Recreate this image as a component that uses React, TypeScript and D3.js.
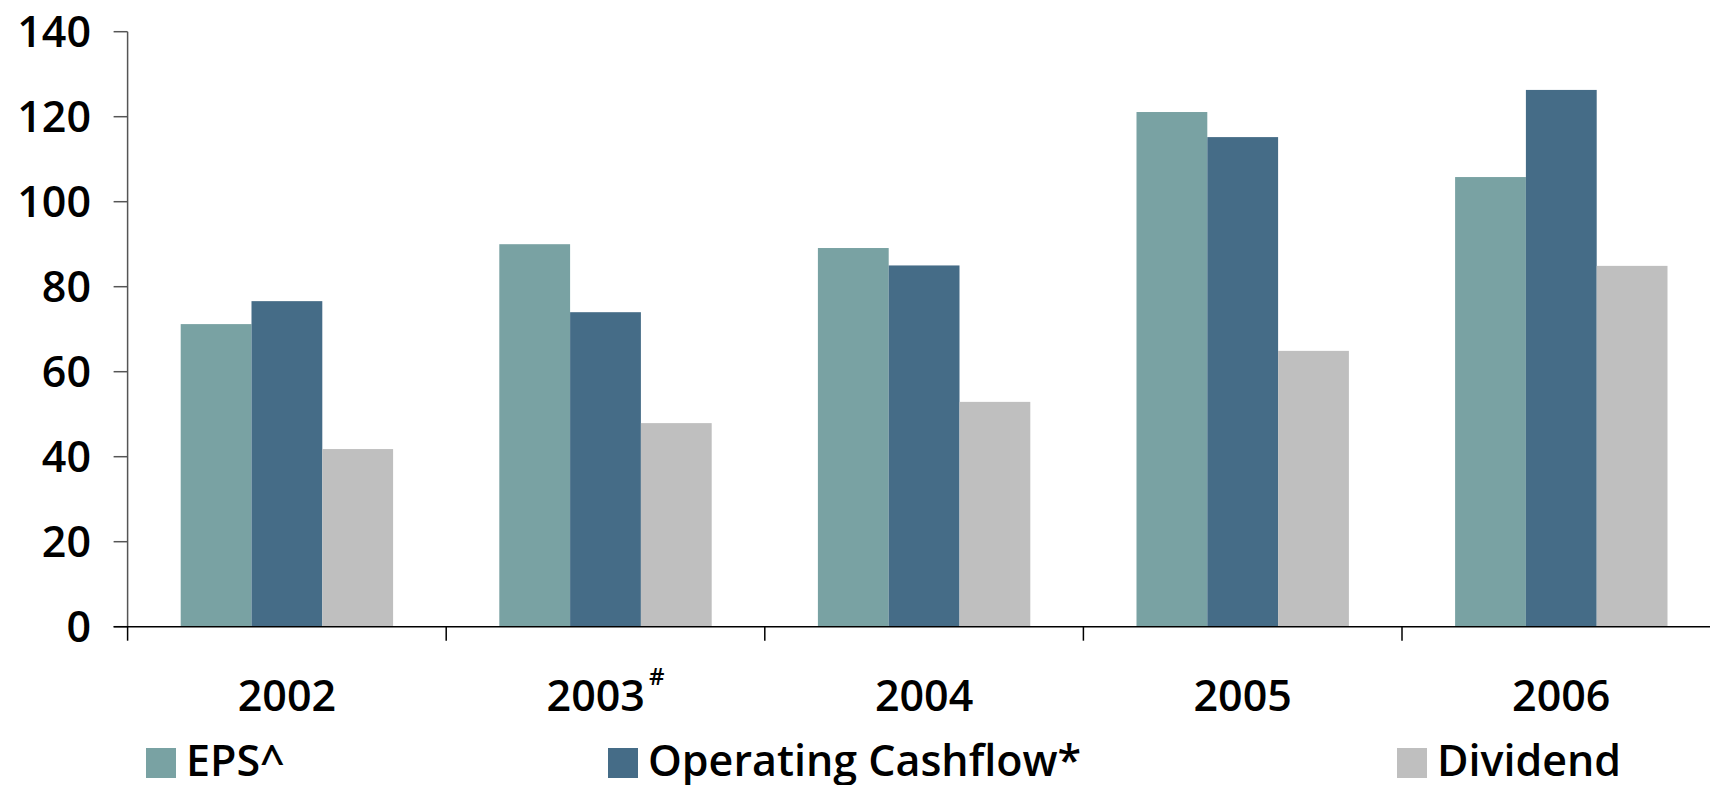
import React from "react";
import * as d3 from "d3";

// Yearly figures per series
const years = ["2002", "2003", "2004", "2005", "2006"];
const yearNotes = ["", "#", "", "", ""];
const seriesNames = ["EPS^", "Operating Cashflow*", "Dividend"];
const epsValues = [71.2, 90.0, 89.1, 121.1, 105.8];
const cashflowValues = [76.6, 74.0, 85.0, 115.2, 126.3];
const dividendValues = [41.8, 47.9, 52.9, 64.9, 84.9];
const yTicks = [0, 20, 40, 60, 80, 100, 120, 140];

const seriesColors = ["#79A2A3", "#456C87", "#BFBFBF"];
const legendX = [146, 608, 1397];

const W = 1710;
const H = 785;
const FONT = "'Open Sans', 'Noto Sans', sans-serif";
const WEIGHT = 600;

export default function App() {
  const seriesValues = [epsValues, cashflowValues, dividendValues];

  const x = d3.scaleBand<string>().domain(years).range([127.6, 1720.6]).padding(0);
  const inner = d3
    .scaleBand<string>()
    .domain(seriesNames)
    .range([0, x.bandwidth()])
    .paddingInner(0)
    .paddingOuter(0.75);
  const y = d3.scaleLinear().domain([0, 140]).range([626.7, 31.7]);

  const x0 = x.range()[0];
  const boundaries = years.map((yr) => x(yr) as number);

  return (
    <svg
      width={W}
      height={H}
      style={{ position: "absolute", left: 0, top: 0, background: "#fff" }}
      fontFamily={FONT}
    >
      {/* bars */}
      {years.map((yr, i) => (
        <g key={yr} transform={`translate(${x(yr)},0)`}>
          {seriesNames.map((s, j) => {
            const v = seriesValues[j][i];
            return (
              <rect
                key={s}
                x={inner(s)}
                y={y(v)}
                width={inner.bandwidth()}
                height={y(0) - y(v)}
                fill={seriesColors[j]}
              />
            );
          })}
        </g>
      ))}

      {/* y axis */}
      <line x1={x0} x2={x0} y1={y(140)} y2={y(0)} stroke="#555" strokeWidth={1.5} />
      {yTicks.map((t) => (
        <g key={t}>
          <line x1={x0 - 14} x2={x0} y1={y(t)} y2={y(t)} stroke="#555" strokeWidth={1.5} />
          <text
            x={91}
            y={y(t)}
            dy="0.36em"
            textAnchor="end"
            fontSize={43}
            fontWeight={WEIGHT}
            fill="#000"
          >
            {t}
          </text>
        </g>
      ))}

      {/* x axis */}
      <line x1={x0 - 14} x2={W} y1={y(0)} y2={y(0)} stroke="#000" strokeWidth={1.5} />
      {boundaries.map((b, i) => (
        <line key={i} x1={b} x2={b} y1={y(0)} y2={y(0) + 14} stroke="#000" strokeWidth={1.5} />
      ))}
      {years.map((yr, i) => (
        <text
          key={yr}
          x={(x(yr) as number) + x.bandwidth() / 2}
          y={711}
          textAnchor="middle"
          fontSize={43}
          fontWeight={WEIGHT}
          fill="#000"
        >
          {yr}
          {yearNotes[i] && (
            <tspan fontSize={24} dx={4} dy={-26}>
              {yearNotes[i]}
            </tspan>
          )}
        </text>
      ))}

      {/* legend */}
      {seriesNames.map((s, j) => (
        <g key={s} transform={`translate(${legendX[j]},748)`}>
          <rect width={30} height={30} fill={seriesColors[j]} />
          <text x={40} y={28} fontSize={43} fontWeight={WEIGHT} fill="#000">
            {s}
          </text>
        </g>
      ))}
    </svg>
  );
}
